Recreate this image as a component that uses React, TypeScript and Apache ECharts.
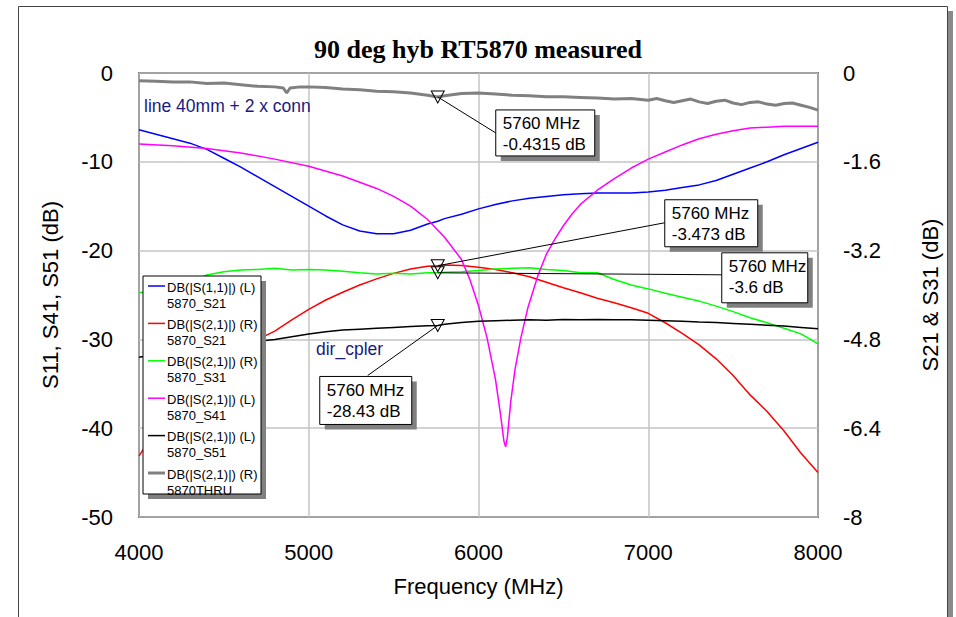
import React, { useEffect, useRef } from "react";
import * as echarts from "echarts";

// ---------------- DATA ----------------
const MARK_FREQ = 5760;

const gridFreq = [4000, 4100, 4200, 4300, 4400, 4500, 4600, 4700, 4800, 4900, 5000, 5100, 5200, 5300, 5400, 5500, 5600, 5700, 5760, 5800, 5900, 6000, 6100, 6200, 6300, 6400, 6500, 6600, 6700, 6800, 6900, 7000, 7100, 7200, 7300, 7400, 7500, 7600, 7700, 7800, 7900, 8000];

// DB(|S(1,1)|) (L) 5870_S21  -> left axis
const s11Val = [-6.4, -6.9, -7.4, -7.9, -8.6, -9.6, -10.6, -11.7, -12.8, -13.9, -15.0, -16.1, -17.1, -17.8, -18.1, -18.1, -17.7, -17.0, -16.7, -16.4, -15.9, -15.3, -14.8, -14.4, -14.1, -13.9, -13.7, -13.6, -13.5, -13.5, -13.5, -13.4, -13.2, -12.9, -12.6, -12.1, -11.4, -10.7, -10.0, -9.2, -8.5, -7.8];

// DB(|S(2,1)|) (R) 5870_S21 -> right axis
const s21Val = [-6.9, -6.45, -6.05, -5.7, -5.4, -5.15, -4.95, -4.8, -4.65, -4.45, -4.26, -4.09, -3.95, -3.82, -3.71, -3.61, -3.53, -3.48, -3.473, -3.46, -3.47, -3.5, -3.54, -3.6, -3.67, -3.77, -3.87, -3.96, -4.06, -4.14, -4.23, -4.33, -4.5, -4.69, -4.9, -5.15, -5.45, -5.8, -6.1, -6.45, -6.85, -7.2];

// DB(|S(2,1)|) (R) 5870_S31 -> right axis
const s31Val = [-3.96, -3.92, -3.86, -3.75, -3.64, -3.58, -3.55, -3.54, -3.52, -3.55, -3.54, -3.55, -3.57, -3.6, -3.62, -3.61, -3.62, -3.6, -3.6, -3.59, -3.58, -3.56, -3.53, -3.52, -3.51, -3.54, -3.56, -3.6, -3.6, -3.72, -3.82, -3.89, -3.97, -4.04, -4.11, -4.2, -4.3, -4.41, -4.5, -4.6, -4.7, -4.88];

// DB(|S(2,1)|) (L) 5870_S41 -> left axis
const s41Freq = [4000, 4200, 4400, 4600, 4800, 5000, 5200, 5400, 5500, 5600, 5700, 5800, 5900, 5950, 6000, 6050, 6100, 6130, 6150, 6160, 6170, 6190, 6215, 6250, 6290, 6350, 6400, 6450, 6500, 6550, 6600, 6700, 6800, 6900, 7000, 7100, 7200, 7300, 7400, 7500, 7600, 7700, 7800, 7900, 8000];
const s41Val = [-8.0, -8.2, -8.5, -9.0, -9.7, -10.5, -11.6, -13.0, -13.9, -15.0, -16.5, -18.5, -21.0, -23.3, -26.2, -29.8, -34.5, -38.5, -41.5, -42.1, -41.0, -37.0, -33.4, -29.8, -26.5, -22.8, -20.4, -18.7, -17.2, -15.9, -14.8, -13.2, -11.9, -10.7, -9.7, -8.9, -8.1, -7.4, -6.9, -6.5, -6.2, -6.1, -6.0, -6.0, -6.0];

// DB(|S(2,1)|) (L) 5870_S51 -> left axis
const s51Val = [-32.0, -31.7, -31.4, -31.1, -30.8, -30.6, -30.4, -30.2, -30.0, -29.7, -29.4, -29.15, -28.95, -28.85, -28.75, -28.65, -28.55, -28.45, -28.43, -28.3, -28.1, -27.95, -27.9, -27.85, -27.8, -27.85, -27.75, -27.8, -27.75, -27.8, -27.8, -27.85, -27.9, -27.95, -28.05, -28.1, -28.2, -28.3, -28.4, -28.5, -28.65, -28.8];

// DB(|S(2,1)|) (R) 5870THRU -> right axis
const thruFreq = [4000, 4100, 4200, 4300, 4400, 4500, 4600, 4700, 4800, 4850, 4870, 4890, 4950, 5000, 5100, 5200, 5300, 5400, 5500, 5600, 5700, 5760, 5800, 5900, 6000, 6100, 6200, 6300, 6400, 6500, 6600, 6700, 6800, 6900, 7000, 7050, 7100, 7150, 7200, 7250, 7300, 7350, 7400, 7450, 7500, 7550, 7600, 7650, 7700, 7750, 7800, 7850, 7900, 7950, 8000];
const thruVal = [-0.14, -0.15, -0.16, -0.16, -0.19, -0.18, -0.21, -0.24, -0.25, -0.27, -0.36, -0.27, -0.25, -0.25, -0.26, -0.29, -0.3, -0.33, -0.34, -0.36, -0.4, -0.4315, -0.41, -0.37, -0.36, -0.38, -0.4, -0.41, -0.43, -0.43, -0.44, -0.45, -0.47, -0.46, -0.49, -0.46, -0.5, -0.53, -0.5, -0.47, -0.52, -0.55, -0.51, -0.49, -0.54, -0.57, -0.53, -0.52, -0.56, -0.58, -0.55, -0.54, -0.58, -0.62, -0.67];

// markers read at 5760 MHz
const markerValues = { thru: -0.4315, s21: -3.473, s31: -3.6, s51: -28.43 };

const leftTicks = { min: -50, max: 0, interval: 10 };
const rightTicks = { min: -8, max: 0, interval: 1.6 };
const freqTicks = { min: 4000, max: 8000, interval: 1000 };

const legendLine1 = ["DB(|S(1,1)|) (L)", "DB(|S(2,1)|) (R)", "DB(|S(2,1)|) (R)", "DB(|S(2,1)|) (L)", "DB(|S(2,1)|) (L)", "DB(|S(2,1)|) (R)"];
const legendLine2 = ["5870_S21", "5870_S21", "5870_S31", "5870_S41", "5870_S51", "5870THRU"];
const seriesColors = ["#0000ff", "#ff0000", "#00ff00", "#ff00ff", "#000000", "#808080"];
const seriesWidths = [1.5, 1.5, 1.5, 1.5, 1.5, 3];

const FONT = "'Liberation Sans', Arial, sans-serif";

const zip = (f: number[], v: number[]) => f.map((x, i) => [x, v[i]]);

export default function App() {
  const ref = useRef<HTMLDivElement>(null);

  useEffect(() => {
    if (!ref.current) return;
    const chart = echarts.init(ref.current, null, { renderer: "svg" });

    const mk = (v: number) => ({
      silent: true,
      symbol: "triangle",
      symbolRotate: 180,
      symbolSize: [13, 12],
      itemStyle: { color: "rgba(255,255,255,0)", borderColor: "#000", borderWidth: 1 },
      label: { show: false },
      data: [{ coord: [MARK_FREQ, v] }],
    });

    const seriesData = [
      { data: zip(gridFreq, s11Val), y: 0 },
      { data: zip(gridFreq, s21Val), y: 1, mark: markerValues.s21 },
      { data: zip(gridFreq, s31Val), y: 1, mark: markerValues.s31 },
      { data: zip(s41Freq, s41Val), y: 0 },
      { data: zip(gridFreq, s51Val), y: 0, mark: markerValues.s51 },
      { data: zip(thruFreq, thruVal), y: 1, mark: markerValues.thru },
    ];

    const axisLabelStyle = { fontSize: 22, color: "#000", fontFamily: FONT };

    chart.setOption({
      animation: false,
      backgroundColor: "transparent",
      title: {
        text: "90 deg hyb RT5870 measured",
        left: "center",
        top: 31,
        textStyle: { fontFamily: "'Liberation Serif', 'Times New Roman', serif", fontWeight: "bold", fontSize: 26, color: "#000" },
      },
      grid: { left: 139, right: 138, top: 73, bottom: 100, show: true, borderColor: "#000", borderWidth: 1.5, backgroundColor: "transparent" },
      xAxis: {
        type: "value",
        ...freqTicks,
        axisLine: { show: false },
        axisTick: { show: false },
        splitLine: { show: true, lineStyle: { color: "#c4c4c4", width: 1.5 } },
        axisLabel: { ...axisLabelStyle, margin: 24, formatter: (v: number) => String(v) },
        name: "Frequency (MHz)",
        nameLocation: "middle",
        nameGap: 58,
        nameTextStyle: axisLabelStyle,
      },
      yAxis: [
        {
          type: "value",
          ...leftTicks,
          axisLine: { show: false },
          axisTick: { show: false },
          splitLine: { show: true, lineStyle: { color: "#c4c4c4", width: 1.5 } },
          axisLabel: { ...axisLabelStyle, margin: 26, formatter: (v: number) => String(v) },
          name: "S11, S41, S51 (dB)",
          nameLocation: "middle",
          nameGap: 78,
          nameTextStyle: axisLabelStyle,
        },
        {
          type: "value",
          position: "right",
          ...rightTicks,
          axisLine: { show: false },
          axisTick: { show: false },
          splitLine: { show: false },
          axisLabel: {
            ...axisLabelStyle,
            margin: 25,
            formatter: (v: number) => String(Number(v.toFixed(1))),
          },
          name: "S21 & S31 (dB)",
          nameLocation: "middle",
          nameGap: 101,
          nameTextStyle: axisLabelStyle,
        },
      ],
      series: seriesData.map((s, i) => ({
        type: "line",
        yAxisIndex: s.y,
        data: s.data,
        showSymbol: false,
        symbol: "none",
        silent: true,
        lineStyle: { color: seriesColors[i], width: seriesWidths[i] },
        markPoint: s.mark !== undefined ? mk(s.mark) : undefined,
        z: 3,
      })),
    });

    // ---- graphics: frame, legend, annotations, callouts ----
    const graphics: any[] = [];
    const Z = 100;

    // outer frame with shadow strip
    graphics.push({ type: "rect", z: Z, silent: true, shape: { x: 948, y: 11, width: 5, height: 620 }, style: { fill: "#8a8a8a" } });
    graphics.push({ type: "rect", z: Z, silent: true, shape: { x: 18.5, y: 6.5, width: 929, height: 640 }, style: { fill: "none", stroke: "#444", lineWidth: 1 } });

    // legend box
    graphics.push({ type: "rect", z: Z, shape: { x: 148, y: 281, width: 118, height: 218 }, style: { fill: "#808080" } });
    graphics.push({ type: "rect", z: Z, shape: { x: 143, y: 276, width: 118, height: 218 }, style: { fill: "#fff", stroke: "#000", lineWidth: 1 } });
    legendLine1.forEach((t, i) => {
      const y1 = 287 + i * 37.4;
      graphics.push({ type: "line", z: Z, shape: { x1: 148, y1: y1 - 1, x2: 165, y2: y1 - 1 }, style: { stroke: seriesColors[i], lineWidth: seriesWidths[i] } });
      graphics.push({ type: "text", z: Z, x: 167, y: y1, style: { text: t, fontSize: 13, fontFamily: FONT, fill: "#000", textVerticalAlign: "middle" } });
      graphics.push({ type: "text", z: Z, x: 167, y: y1 + 16, style: { text: legendLine2[i], fontSize: 13, fontFamily: FONT, fill: "#000", textVerticalAlign: "middle" } });
    });

    // annotations
    graphics.push({ type: "text", z: Z, x: 144, y: 106, style: { text: "line 40mm + 2 x conn", fontSize: 17.5, fontFamily: FONT, fill: "#1a1a80", textVerticalAlign: "middle" } });
    graphics.push({ type: "text", z: Z, x: 316, y: 349, style: { text: "dir_cpler", fontSize: 17.5, fontFamily: FONT, fill: "#1a1a80", textVerticalAlign: "middle" } });

    // callouts
    const callouts = [
      { series: 5, v: markerValues.thru, label: "-0.4315 dB", dx: 58, dy: 13, w: 99, h: 46, lx: 58, ly: 36 },
      { series: 1, v: markerValues.s21, label: "-3.473 dB", dx: 227, dy: -66, w: 93, h: 47, lx: 227, ly: -43 },
      { series: 2, v: markerValues.s31, label: "-3.6 dB", dx: 284, dy: -20, w: 86, h: 50, lx: 284, ly: 2 },
      { series: 4, v: markerValues.s51, label: "-28.43 dB", dx: -118, dy: 51, w: 92, h: 48, lx: -70, ly: 50 },
    ];
    callouts.forEach((c) => {
      const p = chart.convertToPixel({ seriesIndex: c.series }, [MARK_FREQ, c.v]) as number[];
      if (!p) return;
      const [px, py] = p;
      const bx = px + c.dx;
      const by = py + c.dy;
      graphics.push({ type: "line", z: Z, shape: { x1: px, y1: py, x2: px + c.lx, y2: py + c.ly }, style: { stroke: "#000", lineWidth: 1 } });
      graphics.push({ type: "rect", z: Z, shape: { x: bx + 5, y: by + 5, width: c.w, height: c.h }, style: { fill: "#808080" } });
      graphics.push({ type: "rect", z: Z, shape: { x: bx, y: by, width: c.w, height: c.h }, style: { fill: "#fff", stroke: "#000", lineWidth: 1 } });
      graphics.push({ type: "text", z: Z, x: bx + 7, y: by + 14, style: { text: `${MARK_FREQ} MHz`, fontSize: 17, fontFamily: FONT, fill: "#000", textVerticalAlign: "middle" } });
      graphics.push({ type: "text", z: Z, x: bx + 7, y: by + 35, style: { text: c.label, fontSize: 17, fontFamily: FONT, fill: "#000", textVerticalAlign: "middle" } });
    });

    chart.setOption({ graphic: graphics });

    return () => chart.dispose();
  }, []);

  return (
    <div style={{ position: "fixed", left: 0, top: 0, width: 956, height: 617, background: "#fff", overflow: "hidden" }}>
      <div ref={ref} style={{ position: "absolute", left: 0, top: 0, width: 956, height: 617 }} />
    </div>
  );
}
